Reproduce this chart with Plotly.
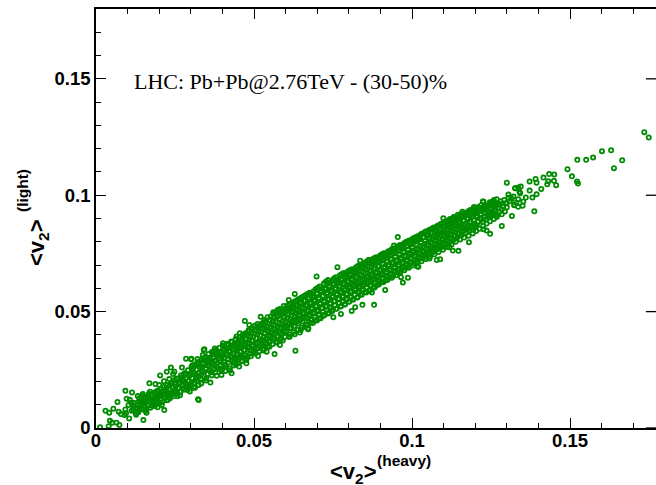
import plotly.graph_objects as go

# Values: (<v2> heavy, <v2> light)
sparse_top = [
(.1735,.1271),(.1749,.1248),(.1630,.1193),(.1601,.1189),(.1573,.1162),(.1551,.1152),(.1523,.1152),(.1665,.1150),
(.1639,.1116),(.1492,.1112),(.1506,.1081),(.1522,.1059),(.1525,.1050),(.1434,.1091),(.1450,.1089),(.1416,.1076),
(.1391,.1070),(.1372,.1059),(.1394,.1054),(.1431,.1060),(.1449,.1062),(.1428,.1047),(.1456,.1043),(.1300,.1054),
(.1327,.1030),(.1344,.1037),(.1336,.1033),(.1372,.1020),(.1409,.1027),(.1394,.1004),(.1381,.0990),(.1360,.0990),
(.1342,.1009),(.1305,.1003),(.1305,.0989),(.1321,.0994),(.1336,.0983),(.1352,.0973),(.1350,.0955),(.1336,.0950),
(.1323,.0957),(.1387,.0931),(.1316,.0911),(.1300,.0966),(.1300,.0948),(.1268,.0983),(.1259,.0980),(.1247,.0970),
(.1224,.0973),(.1276,.0963),(.1263,.0951),(.1284,.0940),(.1294,.0930),(.1236,.0940),(.1263,.0930),(.1252,.0918),
(.1228,.0950),(.1270,.0915),(.1228,.0908),(.1247,.0905),(.1326,.1030),(.1099,.0901),(.1159,.0929),(.1196,.0949),
(.1226,.0973),(.1247,.0969),(.1284,.0868),(.1324,.0959),(.1247,.0834),(.1236,.0848),(.1226,.0854),(.1180,.0798),
(.1147,.0761),(.1129,.0762),(.1118,.0777),(.1089,.0725),(.1078,.0722),(.1055,.0728),(.1017,.0694),
]
sparse_low = [
(.0013,.0003),(.0030,.0074),(.0042,.0066),(.0055,.0083),(.0068,.0112),(.0044,.0031),(.0040,.0008),(.0051,.0023),
(.0065,.0023),(.0074,.0013),(.0072,.0070),(.0079,.0060),(.0093,.0160),(.0097,.0126),(.0093,.0080),(.0095,.0063),
(.0090,.0056),(.0105,.0041),(.0103,.0099),(.0111,.0109),(.0114,.0153),(.0118,.0077),(.0127,.0057),(.0132,.0137),
(.0135,.0113),(.0137,.0077),(.0150,.0034),(.0148,.0146),(.0158,.0127),(.0160,.0066),(.0169,.0192),(.0171,.0156),
(.0179,.0099),(.0188,.0189),(.0195,.0089),(.0203,.0226),(.0200,.0185),(.0216,.0077),(.0224,.0242),(.0232,.0210),
(.0227,.0120),(.0237,.0260),(.0248,.0242),(.0256,.0156),(.0272,.0260),(.0285,.0298),(.0290,.0163),(.0301,.0295),
(.0325,.0120),(.0311,.0175),(.0343,.0338),(.0338,.0314),
]
edge_mid = [
(.0629,.0576),(.0610,.0550),(.0671,.0576),(.0521,.0478),(.0471,.0460),(.0485,.0443),(.0631,.0332),(.0565,.0318),
(.0671,.0424),(.0513,.0309),(.0476,.0278),(.0453,.0264),(.0429,.0235),(.0397,.0228),(.0362,.0195),(.0325,.0185),
(.0309,.0173),(.0323,.0123),(.0341,.0335),(.0302,.0297),(.0561,.0497),(.0587,.0500),(.0455,.0407),(.0402,.0364),
(.0376,.0342),(.0645,.0410),(.0613,.0392),(.0582,.0357),(.0540,.0328),(.0955,.0820),(.0943,.0784),(.0941,.0761),
(.0764,.0691),(.0698,.0651),(.0897,.0736),(.0836,.0719),(.0862,.0722),(.0880,.0529),(.0843,.0529),(.0820,.0519),
(.0809,.0503),(.0775,.0490),(.0751,.0476),(.0672,.0428),(.0987,.0646),(.0971,.0625),(.0965,.0648),(.0915,.0593),
(.0873,.0582),(.0736,.0633),(.0678,.0579),(.1020,.0822),(.1010,.0808),(.0994,.0790),(.1020,.0693),
]
band_a = [
(.0121,.0092),(.0124,.0071),(.0119,.0108),(.0128,.0085),(.0131,.0101),(.0126,.0063),(.0139,.0094),(.0142,.0118),
(.0145,.0082),(.0147,.0106),(.0151,.0125),(.0153,.0090),(.0156,.0073),(.0161,.0112),(.0164,.0134),(.0166,.0098),
(.0169,.0119),(.0172,.0087),(.0175,.0141),(.0178,.0125),(.0181,.0108),(.0183,.0152),(.0186,.0094),(.0188,.0131),
(.0191,.0117),(.0194,.0160),(.0197,.0139),(.0199,.0104),(.0202,.0150),(.0205,.0125),(.0207,.0168),(.0210,.0112),
(.0213,.0142),(.0215,.0176),(.0218,.0131),(.0221,.0158),(.0224,.0119),(.0226,.0185),(.0229,.0147),(.0232,.0166),
(.0234,.0128),(.0237,.0191),(.0240,.0154),(.0243,.0175),(.0245,.0136),(.0248,.0205),(.0251,.0164),(.0253,.0187),
(.0256,.0146),(.0259,.0212),(.0261,.0173),(.0264,.0195),(.0267,.0155),(.0269,.0227),(.0272,.0183),(.0275,.0206),
(.0278,.0164),(.0280,.0234),(.0283,.0192),(.0286,.0216),(.0288,.0174),(.0291,.0248),(.0294,.0203),(.0296,.0225),
(.0299,.0183),(.0302,.0262),(.0304,.0214),(.0307,.0240),(.0310,.0192),(.0312,.0272),(.0315,.0226),(.0318,.0250),
(.0320,.0203),(.0323,.0284),(.0326,.0237),(.0329,.0261),(.0331,.0212),(.0334,.0294),(.0337,.0246),(.0339,.0273),
(.0342,.0222),(.0345,.0305),(.0347,.0256),(.0350,.0283),(.0353,.0232),(.0356,.0318),(.0358,.0266),(.0361,.0294),
(.0364,.0242),(.0367,.0326),(.0369,.0275),(.0372,.0305),(.0375,.0252),(.0377,.0288),(.0380,.0335),(.0383,.0262),
(.0385,.0316),(.0388,.0298),(.0391,.0345),(.0393,.0272),(.0396,.0326),(.0399,.0308),(.0401,.0354),(.0404,.0283),
(.0407,.0336),(.0409,.0245),(.0412,.0318),(.0415,.0362),(.0417,.0294),(.0420,.0346),(.0423,.0256),(.0425,.0327),
(.0428,.0372),(.0431,.0305),(.0434,.0354),(.0436,.0268),(.0439,.0337),(.0442,.0382),(.0444,.0316),(.0447,.0364),
(.0450,.0278),(.0453,.0346),(.0455,.0391),(.0458,.0326),(.0461,.0374),(.0463,.0288),(.0466,.0356),(.0469,.0403),
(.0471,.0336),(.0474,.0384),(.0477,.0298),(.0480,.0366),(.0482,.0414),(.0485,.0346),(.0488,.0395),(.0490,.0308),
(.0493,.0376),(.0496,.0425),(.0498,.0356),(.0501,.0406),(.0504,.0320),(.0507,.0386),(.0509,.0434),(.0512,.0366),
(.0515,.0415),(.0517,.0330),(.0520,.0396),(.0523,.0445),(.0525,.0376),(.0528,.0426),(.0531,.0340),(.0534,.0406),
(.0536,.0456),(.0539,.0386),(.0542,.0436),(.0544,.0350),(.0547,.0416),(.0550,.0465),(.0552,.0396),(.0555,.0446),
(.0558,.0360),(.0561,.0426),(.0563,.0474),(.0566,.0406),(.0569,.0456),(.0571,.0372),(.0574,.0436),(.0577,.0484),
(.0579,.0416),(.0582,.0466),(.0585,.0382),(.0588,.0446),(.0590,.0494),(.0593,.0426),(.0596,.0476),(.0598,.0392),
]
band_b = [
(.0601,.0456),(.0604,.0506),(.0606,.0436),(.0609,.0486),(.0612,.0402),(.0615,.0466),(.0617,.0516),(.0620,.0446),
(.0623,.0496),(.0625,.0412),(.0628,.0476),(.0631,.0526),(.0633,.0456),(.0636,.0506),(.0639,.0422),(.0642,.0486),
(.0644,.0536),(.0647,.0466),(.0650,.0516),(.0652,.0432),(.0655,.0496),(.0658,.0546),(.0660,.0476),(.0663,.0526),
(.0666,.0442),(.0669,.0506),(.0671,.0556),(.0674,.0486),(.0677,.0536),(.0679,.0452),(.0682,.0516),(.0685,.0566),
(.0687,.0496),(.0690,.0546),(.0693,.0462),(.0696,.0526),(.0698,.0576),(.0701,.0506),(.0704,.0556),(.0706,.0472),
(.0709,.0536),(.0712,.0586),(.0714,.0516),(.0717,.0566),(.0720,.0482),(.0723,.0546),(.0725,.0596),(.0728,.0526),
(.0731,.0576),(.0733,.0492),(.0736,.0556),(.0739,.0606),(.0741,.0536),(.0744,.0586),(.0747,.0502),(.0750,.0566),
(.0752,.0616),(.0755,.0546),(.0758,.0596),(.0760,.0512),(.0763,.0576),(.0766,.0626),(.0768,.0556),(.0771,.0606),
(.0774,.0522),(.0777,.0586),(.0779,.0636),(.0782,.0566),(.0785,.0616),(.0787,.0532),(.0790,.0596),(.0793,.0646),
(.0795,.0576),(.0798,.0626),(.0801,.0542),(.0804,.0606),(.0806,.0656),(.0809,.0586),(.0812,.0636),(.0814,.0552),
(.0817,.0616),(.0820,.0666),(.0822,.0596),(.0825,.0646),(.0828,.0562),(.0831,.0626),(.0833,.0676),(.0836,.0606),
(.0839,.0656),(.0841,.0572),(.0844,.0636),(.0847,.0686),(.0849,.0616),(.0852,.0666),(.0855,.0582),(.0858,.0646),
(.0860,.0696),(.0863,.0626),(.0866,.0676),(.0868,.0592),(.0871,.0656),(.0874,.0704),(.0876,.0636),(.0879,.0686),
(.0882,.0604),(.0885,.0666),(.0887,.0712),(.0890,.0646),(.0893,.0696),(.0895,.0616),(.0898,.0676),(.0901,.0722),
(.0903,.0656),(.0906,.0706),(.0909,.0626),(.0912,.0686),(.0914,.0732),(.0917,.0666),(.0920,.0716),(.0922,.0636),
(.0925,.0696),(.0928,.0742),(.0930,.0676),(.0933,.0726),(.0936,.0646),(.0939,.0706),(.0941,.0752),(.0944,.0686),
(.0947,.0736),(.0949,.0656),(.0952,.0716),(.0955,.0762),(.0957,.0696),(.0960,.0746),(.0963,.0668),(.0966,.0726),
(.0968,.0772),(.0971,.0706),(.0974,.0756),(.0976,.0678),(.0979,.0736),(.0982,.0782),(.0984,.0716),(.0987,.0766),
(.0990,.0688),(.0993,.0746),(.0995,.0792),(.0998,.0726),
]
band_c = [
(.1001,.0776),(.1003,.0698),(.1006,.0756),(.1009,.0802),(.1011,.0736),(.1014,.0786),(.1017,.0708),(.1020,.0766),
(.1022,.0810),(.1025,.0746),(.1028,.0796),(.1030,.0716),(.1033,.0776),(.1036,.0820),(.1038,.0756),(.1041,.0804),
(.1044,.0726),(.1047,.0786),(.1049,.0828),(.1052,.0766),(.1055,.0812),(.1057,.0736),(.1060,.0796),(.1063,.0838),
(.1065,.0776),(.1068,.0822),(.1071,.0746),(.1074,.0806),(.1076,.0846),(.1079,.0786),(.1082,.0830),(.1084,.0756),
(.1087,.0814),(.1090,.0856),(.1092,.0796),(.1095,.0840),(.1098,.0766),(.1101,.0824),(.1103,.0868),(.1106,.0806),
(.1109,.0850),(.1111,.0778),(.1114,.0834),(.1117,.0876),(.1119,.0816),(.1122,.0860),(.1125,.0788),(.1128,.0844),
(.1130,.0886),(.1133,.0826),(.1136,.0870),(.1138,.0800),(.1141,.0854),(.1144,.0896),(.1146,.0836),(.1149,.0880),
(.1152,.0810),(.1155,.0864),(.1157,.0906),(.1160,.0846),(.1163,.0890),(.1165,.0818),(.1168,.0874),(.1171,.0914),
(.1173,.0856),(.1176,.0898),(.1179,.0826),(.1182,.0884),(.1184,.0922),(.1187,.0866),(.1190,.0906),(.1192,.0836),
(.1195,.0894),(.1198,.0876),(.1200,.0930),(.1203,.0846),(.1206,.0910),(.1209,.0886),(.1211,.0938),(.1214,.0856),
(.1217,.0918),(.1219,.0896),(.1222,.0946),(.1225,.0868),(.1228,.0926),(.1230,.0906),(.1233,.0956),(.1236,.0878),
(.1239,.0934),(.1241,.0916),(.1244,.0962),(.1247,.0888),(.1250,.0944),(.1253,.0926),(.1256,.0972),(.1259,.0898),
(.1262,.0950),(.1265,.0936),(.1268,.0906),(.1272,.0960),(.1276,.0928),(.1280,.0974),(.1284,.0918),(.1288,.0950),
(.1292,.0980),(.1296,.0966),(.1310,.0975),(.1315,.0985),(.1330,.0968),(.1340,.1015),
]
band_d = [
(.0107,.0121),(.0113,.0074),(.0116,.0098),(.0134,.0068),(.0137,.0128),(.0143,.0099),(.0149,.0137),(.0155,.0104),
(.0159,.0081),(.0167,.0147),(.0173,.0128),(.0177,.0096),(.0184,.0118),(.0189,.0148),(.0193,.0126),(.0198,.0158),
(.0204,.0137),(.0208,.0099),(.0212,.0159),(.0219,.0146),(.0223,.0171),(.0228,.0131),(.0233,.0181),(.0238,.0142),
(.0241,.0197),(.0247,.0157),(.0252,.0177),(.0255,.0213),(.0262,.0189),(.0266,.0141),(.0271,.0218),(.0274,.0171),
(.0279,.0199),(.0284,.0229),(.0289,.0187),(.0292,.0232),(.0297,.0157),(.0303,.0198),(.0306,.0252),(.0311,.0234),
(.0316,.0211),(.0319,.0277),(.0324,.0219),(.0328,.0272),(.0333,.0191),(.0336,.0263),(.0341,.0239),(.0344,.0291),
(.0349,.0214),(.0352,.0268),(.0355,.0301),(.0359,.0247),(.0363,.0282),(.0366,.0226),(.0371,.0317),(.0374,.0268),
(.0378,.0241),(.0381,.0293),(.0384,.0322),(.0389,.0253),(.0392,.0311),(.0395,.0284),(.0398,.0246),(.0403,.0341),
(.0406,.0302),(.0410,.0271),(.0413,.0344),(.0416,.0312),(.0419,.0281),(.0422,.0331),(.0426,.0352),(.0429,.0291),
(.0433,.0336),(.0437,.0301),(.0440,.0361),(.0443,.0273),(.0446,.0342),(.0449,.0318),(.0452,.0377),(.0456,.0302),
(.0459,.0351),(.0462,.0312),(.0465,.0389),(.0468,.0334),(.0472,.0362),(.0475,.0292),(.0478,.0398),(.0481,.0341),
(.0484,.0376),(.0487,.0319),(.0491,.0408),(.0494,.0352),(.0497,.0391),(.0500,.0331),(.0503,.0421),(.0506,.0364),
(.0510,.0402),(.0513,.0343),(.0516,.0438),(.0519,.0381),(.0522,.0414),(.0526,.0352),(.0529,.0452),(.0532,.0392),
(.0535,.0428),(.0538,.0362),(.0541,.0418),(.0545,.0396),(.0548,.0448),(.0551,.0372),(.0554,.0431),(.0557,.0407),
(.0560,.0461),(.0564,.0384),(.0567,.0441),(.0570,.0416),(.0573,.0477),(.0576,.0394),(.0580,.0452),(.0583,.0427),
(.0586,.0486),(.0589,.0406),(.0592,.0462),(.0595,.0436),(.0599,.0498),(.0602,.0416),(.0605,.0474),(.0608,.0447),
(.0611,.0508),(.0614,.0428),(.0618,.0483),(.0621,.0458),(.0624,.0519),(.0627,.0438),(.0630,.0494),(.0634,.0468),
(.0637,.0528),(.0640,.0449),(.0643,.0506),(.0646,.0481),(.0649,.0539),(.0653,.0458),(.0656,.0516),(.0659,.0491),
(.0662,.0548),(.0665,.0471),(.0668,.0528),(.0672,.0501),(.0675,.0559),(.0678,.0481),(.0681,.0538),(.0684,.0511),
(.0688,.0568),(.0691,.0492),(.0694,.0549),(.0697,.0522),(.0700,.0579),(.0703,.0501),(.0707,.0558),(.0710,.0532),
(.0713,.0589),(.0716,.0514),(.0719,.0568),(.0722,.0541),(.0726,.0601),(.0729,.0521),(.0732,.0581),(.0735,.0551),
(.0738,.0612),(.0742,.0534),(.0745,.0592),(.0748,.0562),(.0751,.0621),(.0754,.0544),(.0757,.0601),(.0761,.0572),
(.0764,.0631),(.0767,.0553),(.0770,.0612),(.0773,.0582),(.0776,.0642),(.0780,.0563),(.0783,.0622),(.0786,.0592),
(.0789,.0651),(.0792,.0574),(.0796,.0632),(.0799,.0602),(.0802,.0661),(.0805,.0584),(.0808,.0641),(.0811,.0612),
(.0815,.0669),(.0818,.0594),(.0821,.0651),(.0824,.0622),(.0827,.0681),(.0830,.0604),(.0834,.0661),(.0837,.0632),
(.0840,.0691),(.0843,.0612),(.0846,.0671),(.0850,.0642),(.0853,.0699),(.0856,.0622),(.0859,.0681),(.0862,.0652),
(.0865,.0709),(.0869,.0632),(.0872,.0691),(.0875,.0662),(.0878,.0718),(.0881,.0642),(.0884,.0701),(.0888,.0672),
(.0891,.0727),(.0894,.0652),(.0897,.0711),(.0900,.0682),(.0904,.0736),(.0907,.0662),(.0910,.0721),(.0913,.0692),
(.0916,.0746),(.0919,.0672),(.0923,.0731),(.0926,.0702),(.0929,.0756),(.0932,.0682),(.0935,.0741),(.0938,.0712),
(.0942,.0766),(.0945,.0692),(.0948,.0751),(.0951,.0722),(.0954,.0776),(.0958,.0702),(.0961,.0761),(.0964,.0732),
(.0967,.0785),(.0970,.0712),(.0973,.0771),(.0977,.0742),(.0980,.0796),(.0983,.0722),(.0986,.0781),(.0989,.0752),
(.0992,.0806),(.0996,.0732),(.0999,.0791),(.1002,.0762),(.1005,.0815),(.1008,.0742),(.1012,.0801),(.1015,.0772),
(.1018,.0824),(.1021,.0752),(.1024,.0811),(.1027,.0782),(.1031,.0834),(.1034,.0762),(.1037,.0821),(.1040,.0792),
(.1043,.0844),(.1046,.0772),(.1050,.0831),(.1053,.0802),(.1056,.0852),(.1059,.0782),(.1062,.0841),(.1066,.0812),
(.1069,.0861),(.1072,.0792),(.1075,.0851),(.1078,.0821),(.1081,.0869),(.1085,.0802),(.1088,.0842),(.1091,.0831),
(.1094,.0878),(.1097,.0812),(.1100,.0868),(.1104,.0841),(.1107,.0888),(.1110,.0824),(.1113,.0872),(.1116,.0851),
(.1120,.0898),(.1123,.0832),(.1126,.0881),(.1129,.0861),(.1132,.0906),(.1135,.0842),(.1139,.0891),(.1142,.0871),
(.1145,.0916),(.1148,.0854),(.1151,.0901),(.1154,.0881),(.1158,.0872),(.1161,.0911),(.1164,.0892),(.1167,.0852),
(.1170,.0921),(.1174,.0902),(.1177,.0871),(.1180,.0931),(.1183,.0912),(.1186,.0884),(.1189,.0936),(.1193,.0922),
(.1196,.0862),(.1199,.0941),(.1202,.0921),(.1205,.0872),(.1208,.0948),(.1212,.0931),(.1215,.0902),(.1218,.0956),
(.1221,.0936),(.1224,.0886),(.1227,.0941),(.1231,.0921),(.1234,.0896),(.1237,.0951),(.1240,.0931),(.1243,.0906),
(.1246,.0956),(.1249,.0941),(.1252,.0912),(.1255,.0961),(.1258,.0946),(.1261,.0921),(.1264,.0966),(.1267,.0956),
]
band_e = [
(.0203,.0108),(.0215,.0201),(.0236,.0148),(.0244,.0232),(.0258,.0136),(.0268,.0212),(.0282,.0235),(.0293,.0178),
(.0305,.0270),(.0313,.0173),(.0321,.0296),(.0332,.0229),(.0340,.0292),(.0348,.0204),(.0357,.0288),(.0365,.0239),
(.0373,.0331),(.0382,.0224),(.0390,.0327),(.0397,.0252),(.0405,.0350),(.0411,.0261),(.0418,.0357),(.0424,.0247),
(.0430,.0369),(.0435,.0281),(.0441,.0296),(.0445,.0393),(.0451,.0295),(.0457,.0372),(.0460,.0287),(.0464,.0399),
(.0470,.0314),(.0473,.0407),(.0479,.0305),(.0483,.0421),(.0489,.0333),(.0492,.0428),(.0499,.0326),(.0502,.0439),
(.0508,.0343),(.0511,.0447),(.0518,.0352),(.0521,.0446),(.0527,.0364),(.0530,.0333),(.0533,.0464),(.0537,.0368),
(.0543,.0476),(.0546,.0372),(.0549,.0349),(.0553,.0479),(.0559,.0384),(.0562,.0491),(.0565,.0387),(.0568,.0497),
(.0572,.0366),(.0575,.0507),(.0578,.0412),(.0581,.0511),(.0584,.0401),(.0587,.0507),(.0591,.0376),(.0594,.0524),
(.0597,.0418),(.0600,.0516),(.0603,.0437),(.0607,.0527),(.0610,.0392),(.0613,.0532),(.0616,.0431),(.0619,.0536),
(.0622,.0453),(.0626,.0541),(.0629,.0403),(.0632,.0546),(.0635,.0457),(.0638,.0551),(.0641,.0462),(.0645,.0556),
(.0648,.0421),(.0651,.0561),(.0654,.0471),(.0657,.0566),(.0661,.0434),(.0664,.0571),(.0667,.0442),(.0670,.0576),
(.0673,.0458),(.0676,.0581),(.0680,.0466),(.0683,.0576),(.0686,.0451),(.0689,.0588),(.0692,.0479),(.0695,.0596),
(.0699,.0462),(.0702,.0603),(.0705,.0487),(.0708,.0608),(.0711,.0471),(.0715,.0598),(.0718,.0501),(.0721,.0621),
(.0724,.0486),(.0727,.0628),(.0730,.0508),(.0734,.0636),(.0737,.0493),(.0740,.0624),(.0743,.0517),(.0746,.0631),
(.0749,.0508),(.0753,.0642),(.0756,.0527),(.0759,.0648),(.0762,.0513),(.0765,.0638),(.0769,.0536),(.0772,.0656),
(.0775,.0523),(.0778,.0662),(.0781,.0542),(.0784,.0666),(.0788,.0531),(.0791,.0659),(.0794,.0552),(.0797,.0672),
(.0800,.0543),(.0803,.0678),(.0807,.0561),(.0810,.0682),(.0813,.0552),(.0816,.0676),(.0819,.0572),(.0823,.0691),
(.0826,.0561),(.0829,.0696),(.0832,.0581),(.0835,.0701),(.0838,.0574),(.0842,.0693),(.0845,.0592),(.0848,.0708),
(.0851,.0584),(.0854,.0713),(.0857,.0602),(.0861,.0718),(.0864,.0592),(.0867,.0709),(.0870,.0612),(.0873,.0724),
(.0877,.0604),(.0880,.0729),(.0883,.0622),(.0886,.0733),(.0889,.0614),(.0892,.0727),(.0896,.0632),(.0899,.0741),
(.0902,.0626),(.0905,.0746),(.0908,.0642),(.0911,.0751),(.0915,.0634),(.0918,.0743),(.0921,.0652),(.0924,.0758),
(.0927,.0646),(.0931,.0763),(.0934,.0662),(.0937,.0769),(.0940,.0654),(.0943,.0761),(.0946,.0672),(.0950,.0776),
(.0953,.0668),(.0956,.0781),(.0959,.0682),(.0962,.0786),(.0965,.0674),(.0969,.0778),(.0972,.0692),(.0975,.0794),
(.0978,.0688),(.0981,.0799),(.0985,.0702),(.0988,.0803),(.0991,.0696),(.0994,.0796),(.0997,.0712),(.1000,.0811),
(.1004,.0708),(.1007,.0816),(.1010,.0722),(.1013,.0821),(.1016,.0716),(.1019,.0813),(.1023,.0732),(.1026,.0829),
(.1029,.0728),(.1032,.0834),(.1035,.0742),(.1039,.0839),(.1042,.0736),(.1045,.0831),(.1048,.0752),(.1051,.0847),
(.1054,.0748),(.1058,.0852),(.1061,.0762),(.1064,.0857),(.1067,.0756),(.1070,.0849),(.1073,.0772),(.1077,.0864),
(.1080,.0768),(.1083,.0869),(.1086,.0782),(.1089,.0874),(.1093,.0776),(.1096,.0866),(.1099,.0792),(.1102,.0881),
(.1105,.0788),(.1108,.0886),(.1112,.0802),(.1115,.0891),(.1118,.0798),(.1121,.0883),(.1124,.0812),(.1127,.0898),
(.1131,.0808),(.1134,.0902),(.1137,.0824),(.1140,.0907),(.1143,.0818),(.1147,.0899),(.1150,.0834),(.1153,.0914),
(.1156,.0828),(.1159,.0919),(.1162,.0844),(.1166,.0924),(.1169,.0838),(.1172,.0916),(.1175,.0854),(.1178,.0931),
(.1181,.0848),(.1185,.0936),(.1188,.0862),(.1191,.0939),(.1194,.0852),(.1197,.0933),(.1201,.0868),(.1204,.0944),
]
points = sparse_top + sparse_low + edge_mid + band_a + band_b + band_c + band_d + band_e
heavy = [p[0] for p in points]
light = [p[1] for p in points]

tick_vals = [0, 0.05, 0.1, 0.15]
tick_text = ["0", "0.05", "0.1", "0.15"]
note = "LHC: Pb+Pb@2.76TeV - (30-50)%"

fig = go.Figure(go.Scatter(
    x=heavy, y=light, mode="markers",
    marker=dict(symbol="circle-open", size=4.2, color="#008c00", line=dict(width=1.8, color="#008c00")),
))
tickfont = dict(family="Liberation Sans", size=18.5, color="black")
minor = dict(dtick=0.01, ticklen=5, tickwidth=1.3, ticks="inside", tickcolor="black", showgrid=False)
fig.update_xaxes(range=[0, 0.1772], tickvals=tick_vals, ticktext=[f"<b>{t}</b>" for t in tick_text],
                 ticks="inside", ticklen=10, tickwidth=1.3, tickcolor="black", showline=True, linecolor="black",
                 linewidth=1.6, mirror="ticks", showgrid=False, zeroline=False, tickfont=tickfont, minor=minor,
                 ticklabelstandoff=-5)
fig.update_yaxes(range=[0, 0.18], tickvals=tick_vals, ticktext=[f"<b>{t}</b>" for t in tick_text],
                 ticks="inside", ticklen=10, tickwidth=1.3, tickcolor="black", showline=True, linecolor="black",
                 linewidth=1.6, showgrid=False, zeroline=False, tickfont=tickfont, minor=minor)
for v in tick_vals:
    fig.add_shape(type="line", xref="paper", yref="y", x0=0.982, x1=1, y0=v, y1=v, line=dict(color="black", width=1.3))

def label(text, x, y, size, angle=0):
    fig.add_annotation(text=text, xref="paper", yref="paper", x=x, y=y, showarrow=False, textangle=angle,
                       font=dict(family="Liberation Sans", size=size, color="black"), xanchor="center", yanchor="middle")

W, H, L, T, B = 656, 485, 96, 9, 57
px = lambda v: (v - L) / (W - L)
py = lambda v: (H - B - v) / (H - B - T)
label("<b>&lt;v<sub>2</sub>&gt;</b>", px(353), py(473), 22)
label("<b>(heavy)</b>", px(404), py(460), 15.5)
label("<b>&lt;v<sub>2</sub>&gt;</b>", px(38), py(242), 22, -90)
label("<b>(light)</b>", px(22), py(191), 15.5, -90)
fig.add_annotation(text=note, xref="paper", yref="paper", x=px(132), y=py(82), xanchor="left", yanchor="middle",
                   showarrow=False, font=dict(family="Liberation Serif", size=22, color="black"))

fig.update_layout(width=W, height=H, margin=dict(l=L, r=0, t=T, b=B), plot_bgcolor="white", paper_bgcolor="white",
                  showlegend=False)
fig.write_html("out.html", config=dict(displayModeBar=False),
               post_script="document.body.style.margin='0';document.body.style.overflow='hidden';")
